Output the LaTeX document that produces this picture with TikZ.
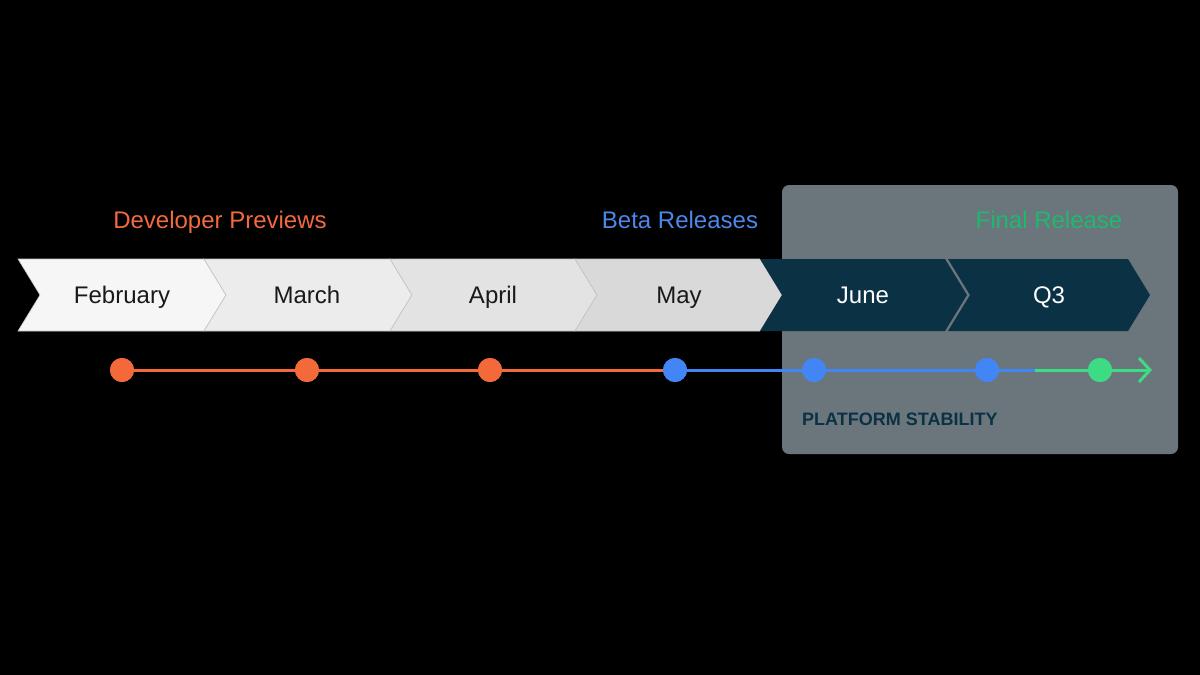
\documentclass[tikz,border=0pt]{standalone}
\usepackage{fontspec}
\setmainfont{Liberation Sans}
\usetikzlibrary{arrows.meta}
\definecolor{cFeb}{HTML}{F6F6F6}
\definecolor{cMar}{HTML}{ECECEC}
\definecolor{cApr}{HTML}{E3E3E3}
\definecolor{cMay}{HTML}{D9D9D9}
\definecolor{cEdge}{HTML}{C4C4C4}
\definecolor{navy}{HTML}{0B3145}
\definecolor{boxgray}{HTML}{6B757C}
\definecolor{orangeA}{HTML}{F4693A}
\definecolor{blueA}{HTML}{4285F4}
\definecolor{greenA}{HTML}{3DDC84}
\definecolor{greenL}{HTML}{1DB96E}
\definecolor{orangeL}{HTML}{F26A3D}
\definecolor{blueL}{HTML}{4A88EC}
\tikzset{
  month/.style={font=\fontsize{24}{28}\selectfont, text=black!90, inner sep=0pt, anchor=base},
  monthdark/.style={month, text=white},
  phase/.style={font=\fontsize{24}{28}\selectfont, inner sep=0pt, anchor=base},
  dot/.style={circle, minimum size=24pt, inner sep=0pt, fill=#1},
  tline/.style={line width=3pt, draw=#1},
}
\begin{document}
\begin{tikzpicture}[x=1pt,y=-1pt]
\useasboundingbox[fill=black] (0,0) rectangle (1200,675);
% stability box
\fill[boxgray, rounded corners=7pt] (782,185) rectangle (1178,454);
% light chevrons
\foreach \x/\w/\c in {18/186/cFeb, 204/186/cMar, 390/185/cApr, 575/185/cMay}
  \filldraw[fill=\c, draw=cEdge, line width=0.6pt] (\x,259) -- ++(\w,0) -- ++(22,36) -- ++(-22,36) -- ++(-\w,0) -- ++(22,-36) -- cycle;
% dark chevrons
\fill[navy] (760,259) -- (945,259) -- (967,295) -- (945,331) -- (760,331) -- (782,295) -- cycle;
\fill[navy] (948,259) -- (1128,259) -- (1150,295) -- (1128,331) -- (948,331) -- (970,295) -- cycle;
% month labels
\node[month] (feb) at (122,303) {February};
\node[month] (mar) at (307,303) {March};
\node[month] (apr) at (493,303) {April};
\node[month] (may) at (679,303) {May};
\node[monthdark] (jun) at (863,303) {June};
\node[monthdark] (q3) at (1049,303) {Q3};
% phase labels
\node[phase, text=orangeL] (dev) at (220,228) {Developer Previews};
\node[phase, text=blueL] (beta) at (680,228) {Beta Releases};
\node[phase, text=greenL] (final) at (1049,228) {Final Release};
% timeline
\coordinate (split) at (1035,370);
\coordinate (tip) at (1152,370);
\node[dot=orangeA] (d1) at (122,370) {};
\node[dot=orangeA] (d2) at (307,370) {};
\node[dot=orangeA] (d3) at (490,370) {};
\node[dot=blueA] (d4) at (675,370) {};
\node[dot=blueA] (d5) at (814,370) {};
\node[dot=blueA] (d6) at (987,370) {};
\node[dot=greenA] (d7) at (1100,370) {};
\draw[tline=orangeA] (d1.center) -- (d4.center);
\draw[tline=blueA] (d4.center) -- (split);
\draw[tline=greenA, -{Straight Barb[length=11pt,width=24pt,line width=3pt]}] (split) -- (tip);
% redraw dots over lines
\foreach \n/\c in {d1/orangeA,d2/orangeA,d3/orangeA,d4/blueA,d5/blueA,d6/blueA,d7/greenA}
  \fill[\c] (\n) circle (12pt);
% platform stability
\node[font=\fontsize{18}{20}\selectfont\bfseries, text=navy, anchor=base west, inner sep=0pt] (stab) at (802,425) {PLATFORM STABILITY};
\end{tikzpicture}
\end{document}
